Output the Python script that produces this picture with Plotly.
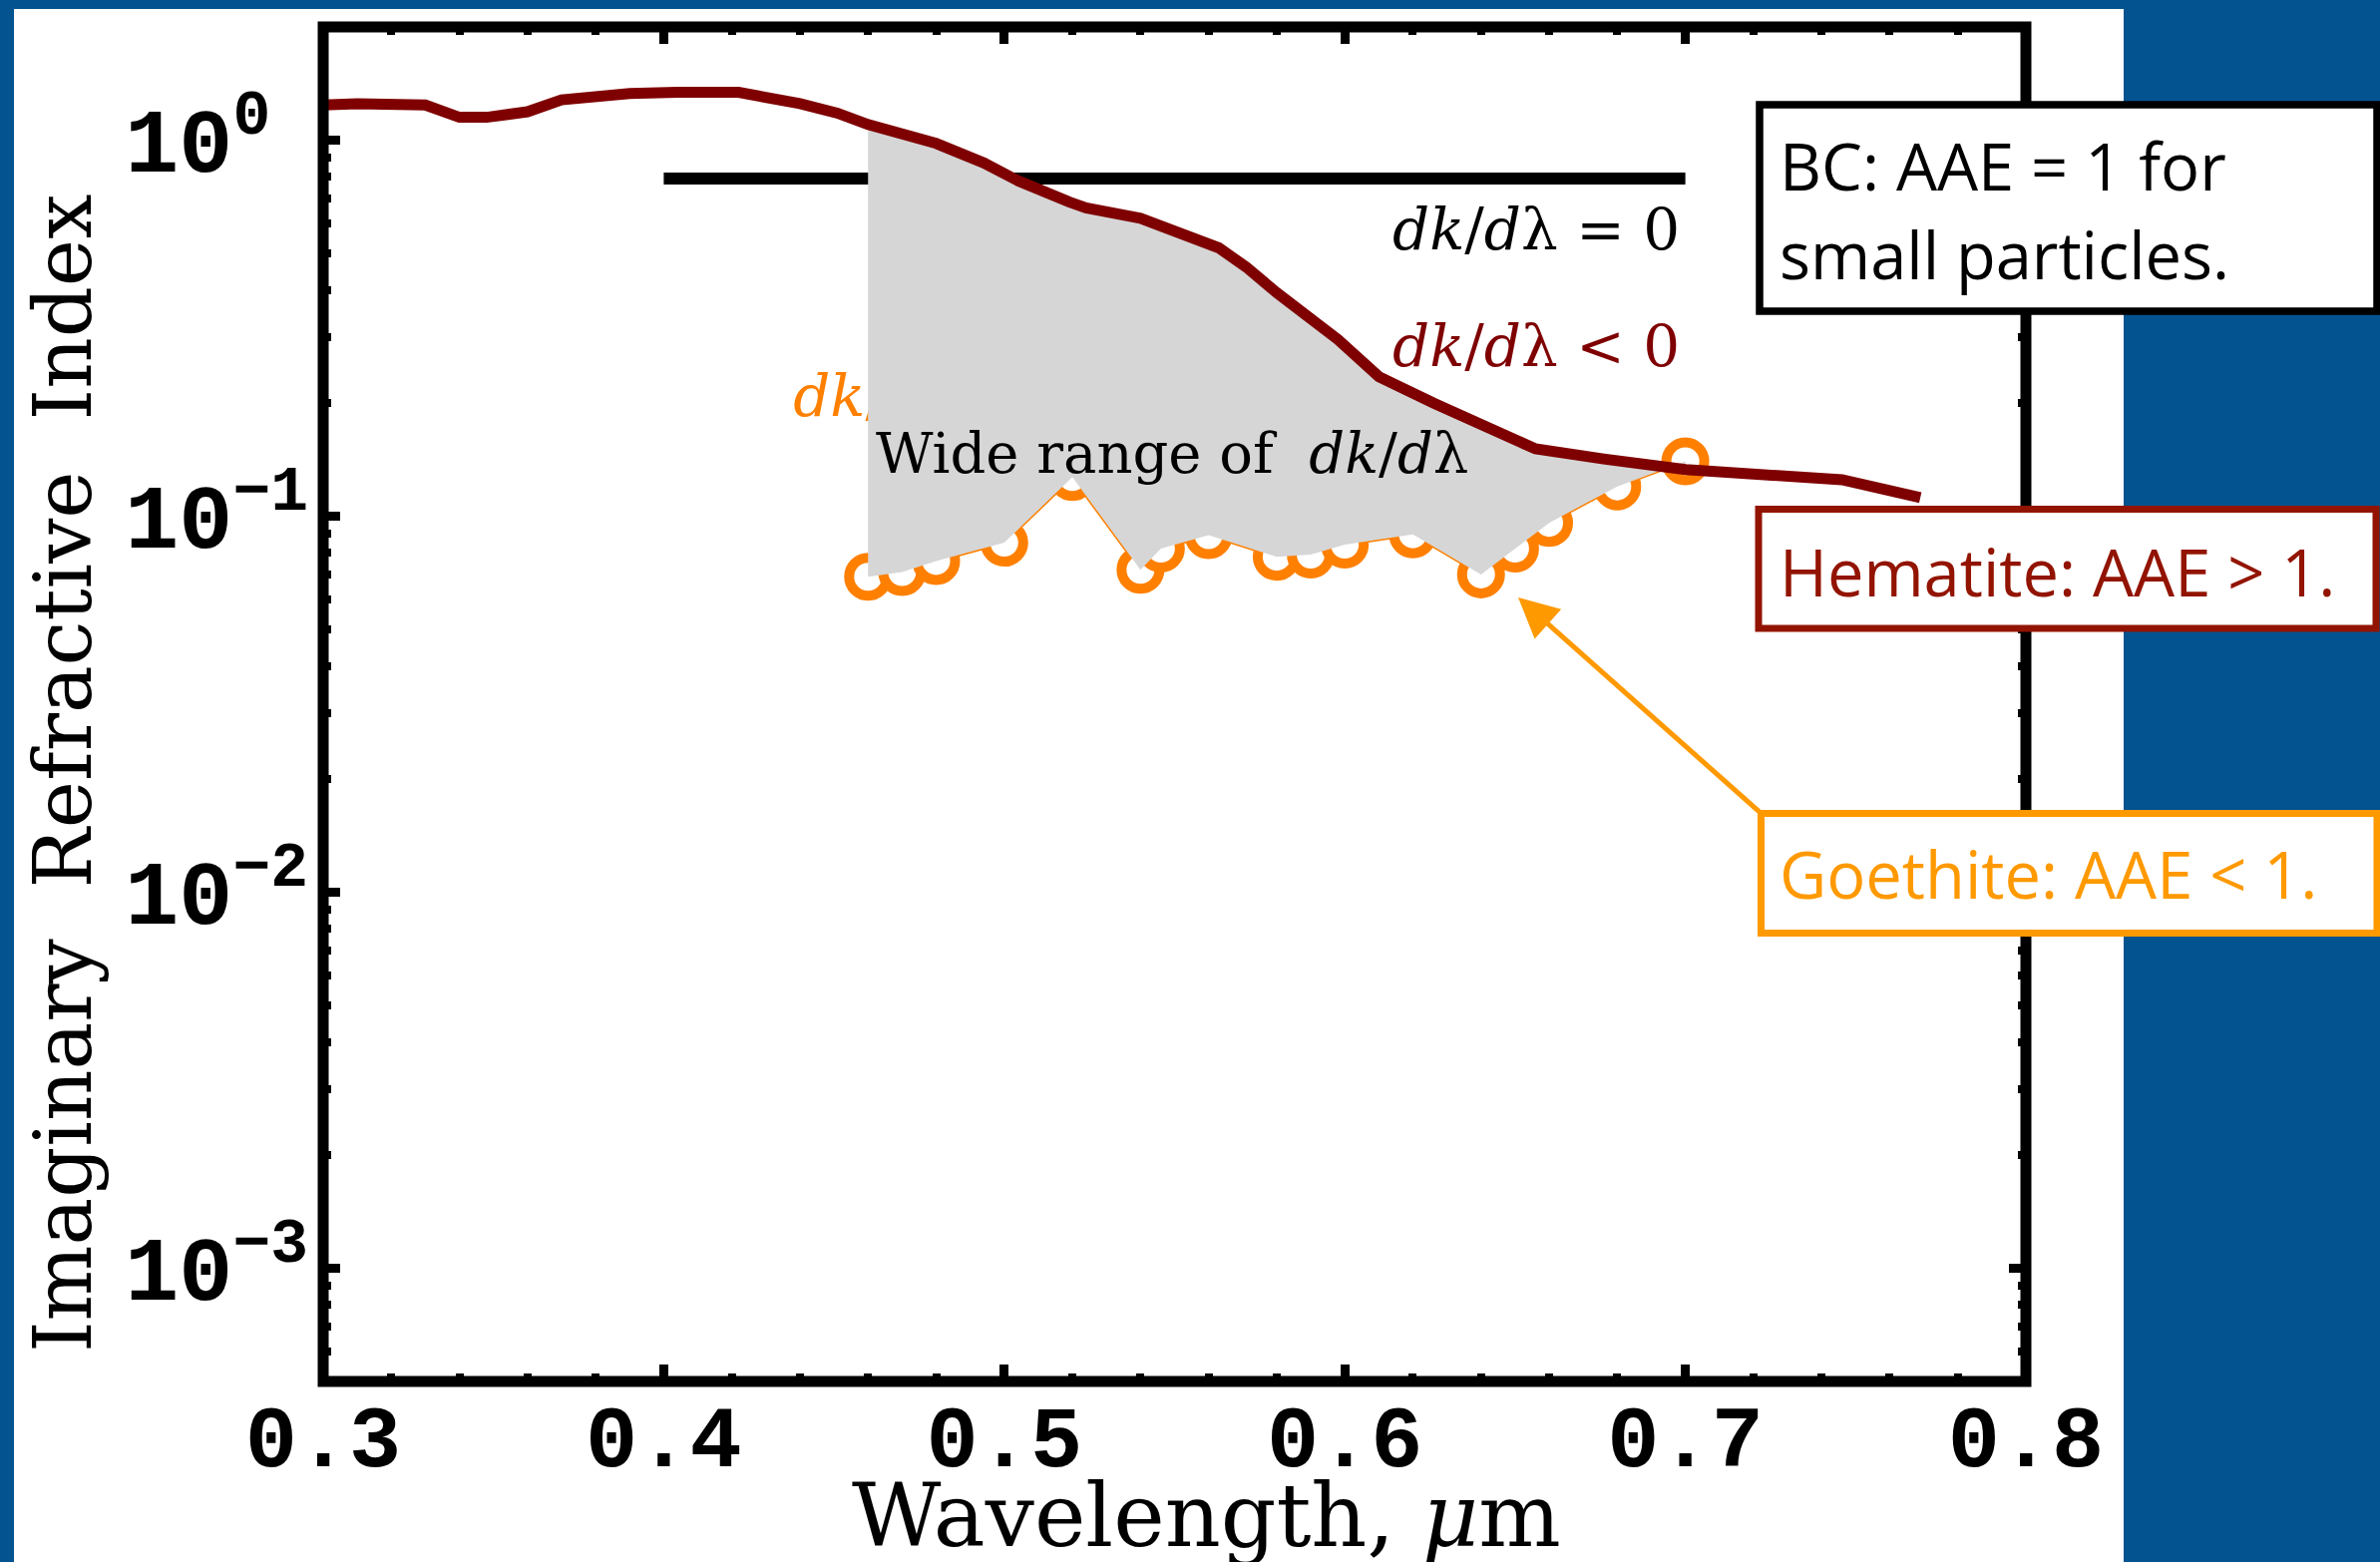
import plotly.graph_objects as go

# Imaginary refractive index k of hematite (continuous curve)
hem_wl = [0.300, 0.310, 0.330, 0.340, 0.348, 0.360, 0.370, 0.390, 0.404, 0.422,
          0.440, 0.451, 0.460, 0.472, 0.480, 0.494, 0.504, 0.519, 0.524, 0.540,
          0.563, 0.571, 0.580, 0.598, 0.610, 0.626, 0.639, 0.656, 0.676, 0.700,
          0.746, 0.769]
hem_k = [1.24, 1.25, 1.24, 1.15, 1.15, 1.19, 1.28, 1.33, 1.34, 1.34,
         1.25, 1.18, 1.10, 1.03, 0.98, 0.87, 0.78, 0.685, 0.66, 0.62,
         0.517, 0.46, 0.393, 0.295, 0.235, 0.200, 0.178, 0.151, 0.142, 0.133,
         0.125, 0.112]

# Imaginary refractive index k of goethite (measured points)
goe_wl = [0.46, 0.47, 0.48, 0.50, 0.52, 0.54, 0.546, 0.56, 0.58, 0.59,
          0.60, 0.62, 0.64, 0.65, 0.66, 0.68, 0.70]
goe_k = [0.069, 0.071, 0.076, 0.085, 0.127, 0.072, 0.082, 0.089, 0.078, 0.079,
         0.084, 0.0895, 0.070, 0.082, 0.096, 0.120, 0.140]

# Wavelength-independent reference level (dk/dlambda = 0)
flat_wl = [0.4, 0.7]
flat_k = [0.79, 0.79]

# Axis ticks
x_tick_vals = [0.3, 0.4, 0.5, 0.6, 0.7, 0.8]
x_tick_text = ["0.3", "0.4", "0.5", "0.6", "0.7", "0.8"]
x_minor_vals = [0.32, 0.34, 0.36, 0.38, 0.42, 0.44, 0.46, 0.48, 0.52, 0.54, 0.56,
                0.58, 0.62, 0.64, 0.66, 0.68, 0.72, 0.74, 0.76, 0.78]
y_tick_vals = [1e-3, 1e-2, 1e-1, 1.0]
y_tick_text = ["10<sup>\u22123</sup>", "10<sup>\u22122</sup>", "10<sup>\u22121</sup>",
               "10<sup>0\u00a0</sup>"]
y_minor_vals = [m * 10.0 ** e for e in (-4, -3, -2, -1, 0) for m in range(2, 10)
                if 5e-4 < m * 10.0 ** e < 2.0]

# Plot-area geometry in pixels, used to place labels and boxes
PL, PR, PT, PB = 324, 2031, 27, 1385
W, H = 2386, 1566


def px(x):
    return (x - PL) / (PR - PL)


def py(y):
    return (PB - y) / (PB - PT)


BLUE = "#02538F"
HEM = "#7F0000"
HEM_BOX = "#921400"
GOE = "#FF8000"
GOE_BOX = "#FF9900"
SERIF = "DejaVu Serif"
HAND = "Open Sans"
MATH = "<i>dk</i>/<i>d</i>\u03bb"

# Grey band between the two curves
band_wl = [w for w in hem_wl if 0.46 <= w <= 0.70] + goe_wl[::-1]
band_k = [k for w, k in zip(hem_wl, hem_k) if 0.46 <= w <= 0.70] + goe_k[::-1]

fig = go.Figure()

fig.add_trace(go.Scatter(x=flat_wl, y=flat_k, mode="lines",
                         line=dict(color="black", width=12), hoverinfo="skip"))

fig.add_trace(go.Scatter(x=[0.438], y=[0.202], mode="text",
                         text=[MATH + " &gt; 0"], textposition="middle right",
                         textfont=dict(family=SERIF, size=58, color=GOE),
                         hoverinfo="skip"))

fig.add_trace(go.Scatter(x=goe_wl, y=goe_k, mode="lines+markers",
                         line=dict(color=GOE, width=3),
                         marker=dict(symbol="circle", size=38, color="white",
                                     line=dict(color=GOE, width=10)),
                         name="Goethite"))

fig.add_trace(go.Scatter(x=band_wl, y=band_k, mode="lines", fill="toself",
                         fillcolor="#D6D6D6", line=dict(width=0, color="#D6D6D6"),
                         hoverinfo="skip"))

fig.add_trace(go.Scatter(x=hem_wl, y=hem_k, mode="lines",
                         line=dict(color=HEM, width=11), name="Hematite"))

x_tick_font = dict(family="Liberation Mono", size=87, color="black", weight="bold")
y_tick_font = dict(family="Liberation Mono", size=90, color="black", weight="bold")

fig.update_xaxes(range=[0.3, 0.8], showline=False, showgrid=False, zeroline=False,
                 tickmode="array", tickvals=x_tick_vals, ticktext=x_tick_text,
                 ticks="inside", ticklen=17, tickwidth=9, tickcolor="black",
                 mirror="ticks", tickfont=x_tick_font, ticklabelstandoff=-3,
                 minor=dict(tickmode="array", tickvals=x_minor_vals, ticks="inside",
                            ticklen=8, tickwidth=8, tickcolor="black", showgrid=False))

fig.update_yaxes(type="log", range=[-3.30103, 0.30103], showline=False, showgrid=False,
                 zeroline=False, tickmode="array", tickvals=y_tick_vals,
                 ticktext=y_tick_text, ticks="inside", ticklen=17, tickwidth=9,
                 tickcolor="black", mirror="ticks", tickfont=y_tick_font,
                 ticklabelstandoff=14,
                 minor=dict(tickmode="array", tickvals=y_minor_vals, ticks="inside",
                            ticklen=8, tickwidth=8, tickcolor="black", showgrid=False))

shapes = [
    # white panel on the blue page
    dict(type="rect", xref="paper", yref="paper", layer="below",
         x0=px(14), x1=px(2129), y0=py(W), y1=py(9),
         fillcolor="white", line=dict(width=0)),
    # axes frame
    dict(type="rect", xref="paper", yref="paper", layer="above",
         x0=0, x1=1, y0=0, y1=1, line=dict(color="black", width=11)),
    # callout boxes
    dict(type="rect", xref="paper", yref="paper", layer="above",
         x0=px(1764), x1=px(2383), y0=py(312), y1=py(105),
         fillcolor="white", line=dict(color="black", width=7.5)),
    dict(type="rect", xref="paper", yref="paper", layer="above",
         x0=px(1763), x1=px(2382), y0=py(630), y1=py(510.5),
         fillcolor="white", line=dict(color=HEM_BOX, width=7)),
    dict(type="rect", xref="paper", yref="paper", layer="above",
         x0=px(1765.5), x1=px(2383), y0=py(935.5), y1=py(815.5),
         fillcolor="white", line=dict(color=GOE_BOX, width=7)),
]

annotations = [
    dict(text="Imaginary\u00a0\u00a0Refractive\u00a0\u00a0Index", textangle=-90,
         x=px(63), y=py(776), xanchor="center", yanchor="middle",
         font=dict(family=SERIF, size=80, color="black")),
    dict(text="Wavelength, <i>\u03bc</i>m",
         x=px(1209), y=py(1520), xanchor="center", yanchor="middle",
         font=dict(family=SERIF, size=87, color="black")),
    dict(text=MATH + " = 0", x=px(1686), y=py(230), xanchor="right", yanchor="middle",
         font=dict(family=SERIF, size=58, color="black")),
    dict(text=MATH + " &lt; 0", x=px(1686), y=py(347), xanchor="right",
         yanchor="middle", font=dict(family=SERIF, size=58, color=HEM)),
    dict(text="Wide range of\u00a0 " + MATH, x=px(876), y=py(454), xanchor="left",
         yanchor="middle", font=dict(family=SERIF, size=56, color="black")),
    dict(text="BC: AAE = 1 for", x=px(1782), y=py(166), xanchor="left",
         yanchor="middle", font=dict(family=HAND, size=65, color="black")),
    dict(text="small particles.", x=px(1782), y=py(255), xanchor="left",
         yanchor="middle", font=dict(family=HAND, size=65, color="black")),
    dict(text="Hematite: AAE &gt; 1.", x=px(1782), y=py(573), xanchor="left",
         yanchor="middle", font=dict(family=HAND, size=65, color=HEM_BOX)),
    dict(text="Goethite: AAE &lt; 1.", x=px(1782), y=py(876), xanchor="left",
         yanchor="middle", font=dict(family=HAND, size=65, color=GOE_BOX)),
    # arrow from the goethite box to the curve
    dict(text="", x=px(1522), y=py(599), ax=243, ay=216, showarrow=True,
         arrowhead=2, arrowsize=1.6, arrowwidth=5, arrowcolor=GOE_BOX, standoff=0),
]
for a in annotations:
    a.setdefault("xref", "paper")
    a.setdefault("yref", "paper")
    a.setdefault("showarrow", False)

fig.update_layout(width=W, height=H, margin=dict(l=PL, r=W - PR, t=PT, b=H - PB),
                  paper_bgcolor=BLUE, plot_bgcolor="white", showlegend=False,
                  shapes=shapes, annotations=annotations)

fig.write_html("out.html")
